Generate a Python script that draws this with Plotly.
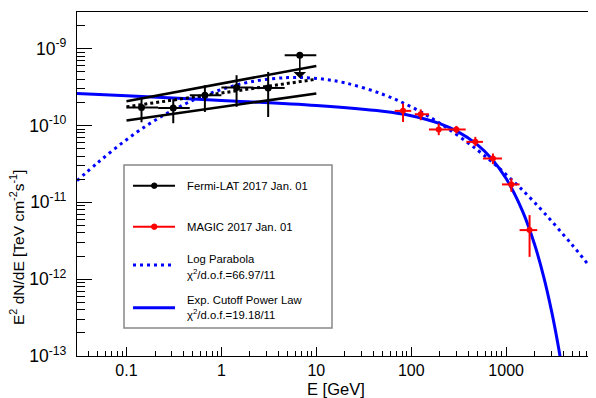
import numpy as np
import plotly.graph_objects as go

# ---------------- data ----------------
# Fermi-LAT 2017 Jan. 01 (E in GeV, E^2 dN/dE in TeV cm^-2 s^-1)
fermi_e = [0.144, 0.311, 0.670, 1.445, 3.11]
fermi_elo = [0.100, 0.2154, 0.4642, 1.000, 2.154]
fermi_ehi = [0.2154, 0.4642, 1.000, 2.154, 4.642]
fermi_f = [1.71e-10, 1.69e-10, 2.48e-10, 3.12e-10, 3.08e-10]
fermi_fhi = [2.26e-10, 2.20e-10, 3.34e-10, 4.51e-10, 4.98e-10]
fermi_flo = [1.10e-10, 1.07e-10, 1.50e-10, 1.75e-10, 1.29e-10]

# Fermi-LAT upper limit
ul_e = [6.70]
ul_elo = [4.642]
ul_ehi = [10.0]
ul_f = [8.20e-10]
ul_arrow_to = [4.12e-10]

# Fermi-LAT butterfly and best fit
bfly_e = [0.1, 10.0]
bfly_upper = [2.07e-10, 5.96e-10]
bfly_lower = [1.16e-10, 2.61e-10]
bfly_best = [1.75e-10, 4.00e-10]

# MAGIC 2017 Jan. 01
magic_e = [82, 126, 195, 299, 474, 726, 1135, 1766]
magic_elo = [67, 109, 154, 244, 381, 570, 904, 1386]
magic_ehi = [100, 154, 244, 375, 570, 904, 1386, 2128]
magic_f = [1.55e-10, 1.40e-10, 8.87e-11, 8.87e-11, 6.12e-11, 3.72e-11, 1.71e-11, 4.35e-12]
magic_fhi = [1.93e-10, 1.62e-10, 1.06e-10, 9.88e-11, 7.11e-11, 4.32e-11, 2.05e-11, 6.82e-12]
magic_flo = [1.11e-10, 1.17e-10, 7.48e-11, 7.87e-11, 5.38e-11, 3.14e-11, 1.37e-11, 1.95e-12]

# Log Parabola model curve
lp_e = [0.0301, 0.05, 0.1, 0.2, 0.5, 1, 2, 5, 10, 20, 50, 100, 200, 500, 1000, 2000, 5000, 8850]
lp_f = [1.91e-11, 3.30e-11, 6.53e-11, 1.17e-10, 2.13e-10, 2.94e-10, 3.69e-10, 4.20e-10,
        4.10e-10, 3.59e-10, 2.55e-10, 1.75e-10, 1.07e-10, 4.78e-11, 2.30e-11, 9.91e-12,
        2.76e-12, 1.15e-12]

# Exp. Cutoff Power Law model curve
ecpl_e = [0.0301, 0.1, 1, 10, 50, 100, 200, 300, 500, 700, 1000, 1500, 2000, 2500, 3000,
          3500, 4000]
ecpl_f = [2.61e-10, 2.44e-10, 2.12e-10, 1.82e-10, 1.53e-10, 1.34e-10, 1.06e-10, 8.51e-11,
          5.60e-11, 3.72e-11, 2.04e-11, 7.53e-12, 2.80e-12, 1.05e-12, 3.93e-13, 1.47e-13,
          5.5e-14]

x_major = [0.1, 1, 10, 100, 1000]
x_major_text = ["0.1", "1", "10", "100", "1000"]
y_major = [1e-13, 1e-12, 1e-11, 1e-10, 1e-9]
y_major_text = ["10<sup>-13</sup>", "10<sup>-12</sup>", "10<sup>-11</sup>",
                "10<sup>-10</sup>", "10<sup>-9</sup>"]

legend_labels = ["Fermi-LAT 2017 Jan. 01", "MAGIC 2017 Jan. 01",
                 "Log Parabola", "χ<sup>2</sup>/d.o.f.=66.97/11",
                 "Exp. Cutoff Power Law", "χ<sup>2</sup>/d.o.f.=19.18/11"]

# ---------------- layout geometry ----------------
# the page body has an 8 px margin, so the figure is drawn 8 px smaller
OFF = 8
W, H = 596 - OFF, 398 - OFF
L, R, T, B = 77 - OFF, 0, 12 - OFF, 42
PW, PH = W - L - R, H - T - B
PX0, PY1 = L + OFF, H - B + OFF          # page coords of plot left / bottom
FONT = "Liberation Sans, Arial, Helvetica, sans-serif"
BLUE, RED = "#0000ff", "#ff0000"


def px(x):
    return (x - PX0) / PW


def py(y):
    return (PY1 - y) / PH


fig = go.Figure()

# models
fig.add_trace(go.Scatter(x=lp_e, y=lp_f, mode="lines", line_shape="spline",
                         line=dict(color=BLUE, width=3, dash="3px,4px"),
                         showlegend=False))
fig.add_trace(go.Scatter(x=ecpl_e, y=ecpl_f, mode="lines", line_shape="spline",
                         line=dict(color=BLUE, width=3), showlegend=False))

# Fermi butterfly
for band in (bfly_upper, bfly_lower):
    fig.add_trace(go.Scatter(x=bfly_e, y=band, mode="lines",
                             line=dict(color="black", width=2.5), showlegend=False))
fig.add_trace(go.Scatter(x=bfly_e, y=bfly_best, mode="lines",
                         line=dict(color="black", width=3, dash="3px,3px"),
                         showlegend=False))

# Fermi points
fe = np.array(fermi_e)
ff = np.array(fermi_f)
fig.add_trace(go.Scatter(
    x=fermi_e, y=fermi_f, mode="markers",
    marker=dict(color="black", size=7),
    error_y=dict(type="data", symmetric=False, array=np.array(fermi_fhi) - ff,
                 arrayminus=ff - np.array(fermi_flo), color="black", thickness=2, width=0),
    error_x=dict(type="data", symmetric=False, array=np.array(fermi_ehi) - fe,
                 arrayminus=fe - np.array(fermi_elo), color="black", thickness=2, width=0),
    showlegend=False))

# Upper limit
ue = np.array(ul_e)
fig.add_trace(go.Scatter(
    x=ul_e, y=ul_f, mode="markers", marker=dict(color="black", size=7),
    error_x=dict(type="data", symmetric=False, array=np.array(ul_ehi) - ue,
                 arrayminus=ue - np.array(ul_elo), color="black", thickness=2, width=0),
    showlegend=False))
for e, f0, f1 in zip(ul_e, ul_f, ul_arrow_to):
    fig.add_annotation(x=np.log10(e), y=np.log10(f1), ax=np.log10(e), ay=np.log10(f0),
                       xref="x", yref="y", axref="x", ayref="y", text="",
                       showarrow=True, arrowhead=1, arrowsize=1.3, arrowwidth=1.6,
                       arrowcolor="black")

# MAGIC points
me = np.array(magic_e, dtype=float)
mf = np.array(magic_f)
fig.add_trace(go.Scatter(
    x=magic_e, y=magic_f, mode="markers",
    marker=dict(color=RED, size=6),
    error_y=dict(type="data", symmetric=False, array=np.array(magic_fhi) - mf,
                 arrayminus=mf - np.array(magic_flo), color=RED, thickness=2, width=0),
    error_x=dict(type="data", symmetric=False, array=np.array(magic_ehi) - me,
                 arrayminus=me - np.array(magic_elo), color=RED, thickness=2, width=0),
    showlegend=False))

# ---------------- legend box (drawn by hand, ROOT style) ----------------
shapes = [dict(type="rect", xref="paper", yref="paper",
               x0=px(124), x1=px(332), y0=py(328), y1=py(165),
               line=dict(color="#888888", width=1.5), fillcolor="white", layer="above")]
sample = [(185.7, "black", "solid", True), (226.7, RED, "solid", True),
          (265.0, BLUE, "3px,4px", False), (307.7, BLUE, "solid", False)]
for yy, col, dash, dot in sample:
    shapes.append(dict(type="line", xref="paper", yref="paper", x0=px(133), x1=px(175),
                       y0=py(yy), y1=py(yy), layer="above",
                       line=dict(color=col, width=2 if dot else 3, dash=dash)))
    if dot:
        shapes.append(dict(type="circle", xref="paper", yref="paper",
                           x0=px(151.5), x1=px(157), y0=py(yy + 2.75), y1=py(yy - 2.75),
                           fillcolor=col, line=dict(color=col, width=1), layer="above"))
text_y = [185.7, 226.7, 259.3, 273.6, 300.0, 313.6]
for label, yy in zip(legend_labels, text_y):
    fig.add_annotation(x=px(185), y=py(yy), xref="paper", yref="paper", text=label,
                       showarrow=False, xanchor="left", yanchor="middle",
                       font=dict(family=FONT, size=11.3, color="black"))

# Axis titles
fig.add_annotation(x=px(336), y=py(388.5), xref="paper", yref="paper", text="E [GeV]",
                   showarrow=False, xanchor="center", yanchor="middle",
                   font=dict(family=FONT, size=16.5, color="black"))
fig.add_annotation(x=px(17), y=py(248), xref="paper", yref="paper",
                   text="E<sup>2</sup> dN/dE [TeV cm<sup>-2</sup>s<sup>-1</sup>]",
                   textangle=-90, showarrow=False, xanchor="center", yanchor="middle",
                   font=dict(family=FONT, size=15.5, color="black"))

x_minor = [k * 10.0 ** n for n in range(-2, 4) for k in range(2, 10)]
y_minor = [k * 10.0 ** n for n in range(-13, -8) for k in range(2, 10)]

fig.update_layout(
    width=W, height=H, margin=dict(l=L, r=R, t=T, b=B),
    paper_bgcolor="white", plot_bgcolor="white", shapes=shapes,
    font=dict(family=FONT, size=15, color="black"),
    xaxis=dict(type="log", range=[np.log10(0.0301), np.log10(8850)],
               tickvals=x_major, ticktext=x_major_text, ticks="inside", ticklen=9,
               tickwidth=1, tickcolor="black", showline=True, linecolor="black",
               linewidth=1.2, mirror=True, showgrid=False, zeroline=False,
               tickfont=dict(family=FONT, size=16),
               minor=dict(tickvals=x_minor, ticks="inside", ticklen=4.5,
                          tickcolor="black", tickwidth=1, showgrid=False)),
    yaxis=dict(type="log", range=[-13, -8.523],
               tickvals=y_major, ticktext=y_major_text, ticks="inside", ticklen=15,
               tickwidth=1, tickcolor="black", showline=True, linecolor="black",
               linewidth=1.2, mirror=False, showgrid=False, zeroline=False,
               tickfont=dict(family=FONT, size=17.5), ticklabelstandoff=6,
               minor=dict(tickvals=y_minor, ticks="inside", ticklen=7.5,
                          tickcolor="black", tickwidth=1, showgrid=False)),
)

fig.write_html("out.html")
